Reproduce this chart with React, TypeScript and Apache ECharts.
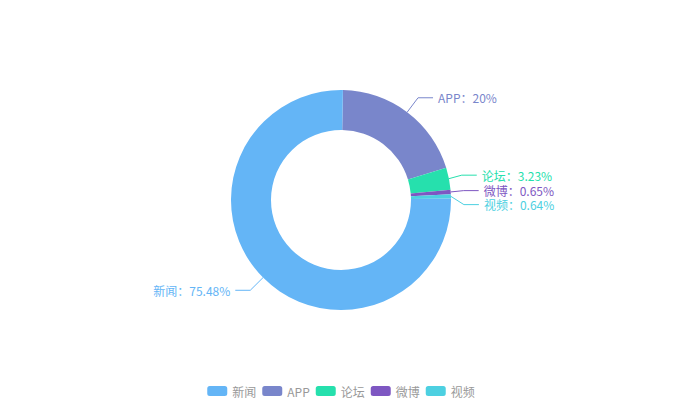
import React, { useEffect, useRef } from "react";
import * as echarts from "echarts";

const legendOrder = ["新闻", "APP", "论坛", "微博", "视频"];
const categories = ["APP", "论坛", "微博", "视频", "新闻"];
const values = [20, 3.23, 0.65, 0.64, 75.48];
const colors = ["#7986cb", "#26e0ad", "#7e57c2", "#4dd0e1", "#64b5f6"];

export default function App() {
  const ref = useRef<HTMLDivElement>(null);
  useEffect(() => {
    document.body.style.margin = "0";
    const chart = echarts.init(ref.current!, null, { renderer: "svg" });
    chart.setOption({
      animation: false,
      textStyle: { fontFamily: "'Noto Sans CJK SC', 'Noto Sans', sans-serif" },
      legend: {
        data: legendOrder,
        bottom: -2,
        itemWidth: 20,
        itemHeight: 10,
        itemGap: 6,
        icon: "roundRect",
        textStyle: { color: "#999", fontSize: 12 },
      },
      series: [
        {
          type: "pie",
          center: ["50%", "50%"],
          radius: ["35%", "55%"],
          startAngle: 89,
          label: {
            formatter: "{b}：{d}%",
            fontSize: 12,
            lineHeight: 12,
          },
          labelLine: { length: 18, length2: 15 },
          data: categories.map((name, i) => ({
            name,
            value: values[i],
            itemStyle: { color: colors[i] },
            label: { color: colors[i] },
          })),
        },
      ],
    });
    return () => chart.dispose();
  }, []);
  return <div ref={ref} style={{ width: 682, height: 400 }} />;
}
